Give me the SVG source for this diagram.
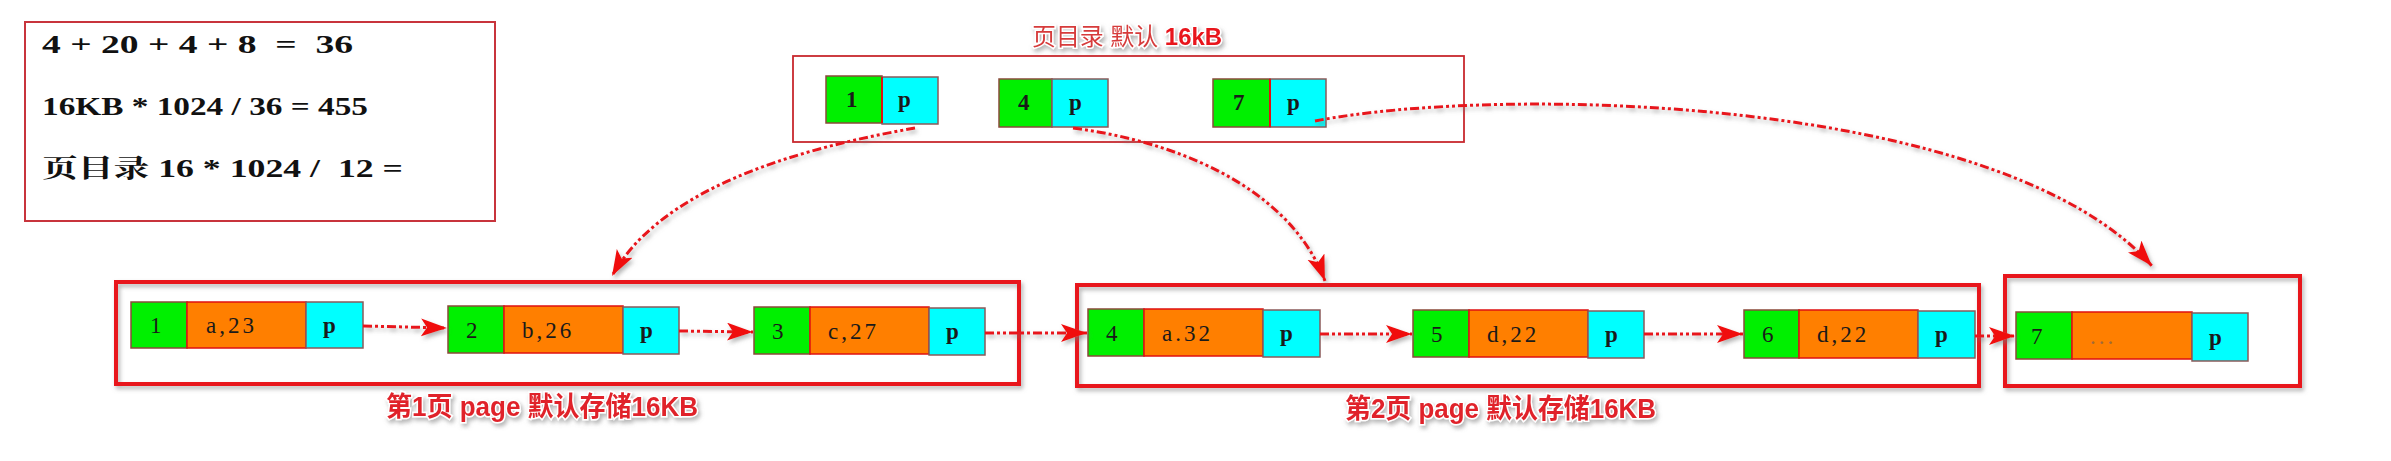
<svg xmlns="http://www.w3.org/2000/svg" width="2391" height="461" viewBox="0 0 2391 461">
<defs>
<style>
.g{fill:#00f000;stroke:#8a4a3a;stroke-width:1.5}
.o{fill:#ff7f00;stroke:#e01010;stroke-width:1.5}
.c{fill:#00ffff;stroke:#8a5a5a;stroke-width:1.5}
.t{font-family:"Liberation Serif","Noto Sans CJK SC",serif;font-size:23px;fill:#1a1a1a}
.ls{letter-spacing:3px}
.tb{font-weight:bold}
.page{fill:none;stroke:#e8141c;stroke-width:4;filter:url(#sh)}
.thin{fill:#fff;stroke:#c8282e;stroke-width:1.8}
.formula{font-family:"Liberation Serif","Noto Serif CJK SC","Noto Sans CJK SC",serif;font-size:25px;font-weight:bold;fill:#111}
.lbl{font-family:"Liberation Sans","Noto Sans CJK SC",sans-serif;font-size:27px;font-weight:bold;fill:#e0242a;stroke:#fff;stroke-width:3;paint-order:stroke;filter:url(#sh)}
.conn{fill:none;stroke:#e8141c;stroke-width:3;stroke-dasharray:9 3 3 3 3 3;marker-end:url(#ah)}
</style>
<filter id="sh" x="-10%" y="-30%" width="120%" height="160%">
<feDropShadow dx="2" dy="3" stdDeviation="2" flood-color="#777" flood-opacity="0.55"/>
</filter>
<marker id="ah" markerUnits="userSpaceOnUse" markerWidth="28" markerHeight="20" refX="26" refY="9" orient="auto">
<path d="M0,0 L26,9 L0,18 L6,9 Z" fill="#f01010"/>
</marker>
</defs>
<rect width="2391" height="461" fill="#fff"/>

<g id="formula-box">
<rect x="25" y="22" width="470" height="199" fill="#fff" stroke="#c8343c" stroke-width="2"/>
<text class="formula" x="42" y="53" textLength="311" lengthAdjust="spacingAndGlyphs" xml:space="preserve">4 + 20 + 4 + 8  =  36</text>
<text class="formula" x="42" y="115" textLength="326" lengthAdjust="spacingAndGlyphs">16KB * 1024 / 36 = 455</text>
<text class="formula" x="42" y="177" textLength="361" lengthAdjust="spacingAndGlyphs" xml:space="preserve">页目录 16 * 1024 /  12 =</text>
</g>

<g id="dir-title">
<text x="1032" y="45" textLength="190" lengthAdjust="spacingAndGlyphs" font-family="'Liberation Sans','Noto Sans CJK SC',sans-serif" font-size="24" fill="#d63a3a" stroke="#fff" stroke-width="3" paint-order="stroke" filter="url(#sh)">页目录 默认 <tspan font-weight="bold" fill="#e8141c">16kB</tspan></text>
</g>

<g id="directory">
<rect class="thin" x="793" y="56" width="671" height="86"/>
<g id="dir-1">
<rect class="g" x="826" y="76" width="56" height="47"/>
<rect class="c" x="882" y="77" width="56" height="47"/>
<line x1="882" y1="77" x2="882" y2="123" stroke="#e01010" stroke-width="2"/>
<text class="t tb" x="846" y="107">1</text>
<text class="t tb" x="898" y="107">p</text>
</g>
<g id="dir-4">
<rect class="g" x="999" y="79" width="53" height="48"/>
<rect class="c" x="1052" y="79" width="56" height="48"/>
<text class="t tb" x="1018" y="110">4</text>
<text class="t tb" x="1069" y="110">p</text>
</g>
<g id="dir-7">
<rect class="g" x="1213" y="79" width="57" height="48"/>
<rect class="c" x="1270" y="79" width="56" height="48"/>
<line x1="1270" y1="79" x2="1270" y2="127" stroke="#e01010" stroke-width="2"/>
<text class="t tb" x="1233" y="110">7</text>
<text class="t tb" x="1287" y="110">p</text>
</g>
</g>

<g id="page1">
<rect class="page" x="116" y="282" width="903" height="102"/>
<text class="lbl" x="386" y="416" textLength="312" lengthAdjust="spacingAndGlyphs">第1页 page  默认存储16KB</text>
</g>
<g id="page2">
<rect class="page" x="1077" y="285" width="902" height="101"/>
<text class="lbl" x="1345" y="418" textLength="311" lengthAdjust="spacingAndGlyphs">第2页 page  默认存储16KB</text>
</g>
<g id="page3">
<rect class="page" x="2005" y="276" width="295" height="110"/>
</g>

<g id="row-1">
<rect class="g" x="131" y="302" width="56" height="46"/>
<rect class="o" x="187" y="302" width="119" height="46"/>
<rect class="c" x="306" y="302" width="57" height="46"/>
<text class="t" x="150" y="333">1</text>
<text class="t ls" x="206" y="333">a,23</text>
<text class="t tb" x="323" y="333">p</text>
</g>
<g id="row-2">
<rect class="g" x="448" y="306" width="56" height="47"/>
<rect class="o" x="504" y="306" width="119" height="47"/>
<rect class="c" x="623" y="307" width="56" height="47"/>
<text class="t" x="466" y="338">2</text>
<text class="t ls" x="522" y="338">b,26</text>
<text class="t tb" x="640" y="338">p</text>
</g>
<g id="row-3">
<rect class="g" x="754" y="307" width="56" height="47"/>
<rect class="o" x="810" y="307" width="119" height="47"/>
<rect class="c" x="929" y="308" width="56" height="47"/>
<text class="t" x="772" y="339">3</text>
<text class="t ls" x="828" y="339">c,27</text>
<text class="t tb" x="946" y="339">p</text>
</g>
<g id="row-4">
<rect class="g" x="1088" y="309" width="56" height="47"/>
<rect class="o" x="1144" y="309" width="119" height="47"/>
<rect class="c" x="1263" y="310" width="57" height="47"/>
<text class="t" x="1106" y="341">4</text>
<text class="t ls" x="1162" y="341">a.32</text>
<text class="t tb" x="1280" y="341">p</text>
</g>
<g id="row-5">
<rect class="g" x="1413" y="310" width="56" height="47"/>
<rect class="o" x="1469" y="310" width="119" height="47"/>
<rect class="c" x="1588" y="311" width="56" height="47"/>
<text class="t" x="1431" y="342">5</text>
<text class="t ls" x="1487" y="342">d,22</text>
<text class="t tb" x="1605" y="342">p</text>
</g>
<g id="row-6">
<rect class="g" x="1744" y="310" width="55" height="48"/>
<rect class="o" x="1799" y="310" width="119" height="48"/>
<rect class="c" x="1918" y="311" width="57" height="47"/>
<text class="t" x="1762" y="342">6</text>
<text class="t ls" x="1817" y="342">d,22</text>
<text class="t tb" x="1935" y="342">p</text>
</g>
<g id="row-7">
<rect class="g" x="2016" y="312" width="56" height="47"/>
<rect class="o" x="2072" y="312" width="120" height="47"/>
<rect class="c" x="2192" y="313" width="56" height="48"/>
<text class="t" x="2031" y="344">7</text>
<text class="t ls" x="2090" y="344" style="fill:#a06a3a">...</text>
<text class="t tb" x="2209" y="345">p</text>
</g>

<g id="connectors" filter="url(#sh)">
<path class="conn" d="M363,326 L447,328"/>
<path class="conn" d="M679,331 L753,332"/>
<path class="conn" d="M985,333 L1087,333"/>
<path class="conn" d="M1320,334 L1412,334"/>
<path class="conn" d="M1644,334 L1743,334"/>
<path class="conn" d="M1975,336 L2015,336"/>
<path class="conn" d="M915,128 C790,150 660,190 612,276"/>
<path class="conn" d="M1073,128 C1200,145 1295,200 1325,281"/>
<path class="conn" d="M1315,121 C1500,85 2000,95 2152,266"/>
</g>
</svg>
